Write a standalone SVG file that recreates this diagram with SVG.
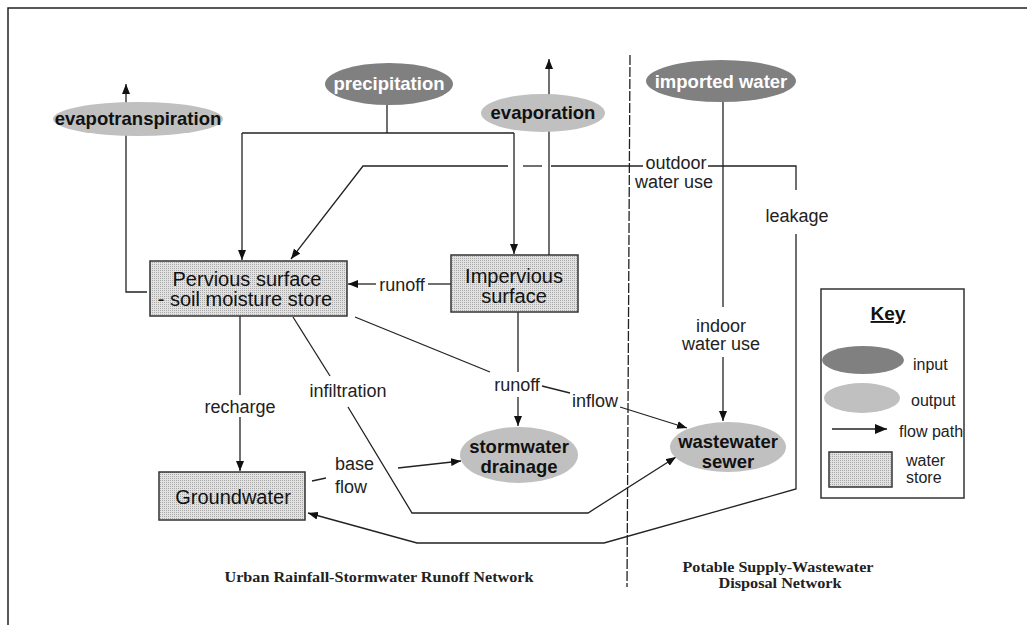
<svg xmlns="http://www.w3.org/2000/svg" width="1027" height="625" viewBox="0 0 1027 625">
<style>
.ln{fill:none;stroke:#222;stroke-width:1.3}
.box{stroke:#333;stroke-width:1.5;fill:url(#stip)}
.inp{fill:#808080}
.out{fill:#c0c0c0}
.bt{font-family:"Liberation Sans",Arial,sans-serif;font-size:20px;fill:#111;text-anchor:middle}
.et{font-family:"Liberation Sans",Arial,sans-serif;font-size:18.5px;font-weight:bold;text-anchor:middle}
.lb{font-family:"Liberation Sans",Arial,sans-serif;font-size:18px;fill:#222;text-anchor:middle}
.kt{font-family:"Liberation Sans",Arial,sans-serif;font-size:16px;fill:#222}
.sr{font-family:"Liberation Serif","Times New Roman",serif;font-size:15.5px;font-weight:bold;fill:#222;text-anchor:middle}
</style>
<defs>
<pattern id="stip" width="2" height="2" patternUnits="userSpaceOnUse">
<rect width="2" height="2" fill="#e2e2e2"/>
<rect width="1" height="1" fill="#a9a9a9"/>
</pattern>
<marker id="ah" markerWidth="10" markerHeight="8" refX="10" refY="4" orient="auto" markerUnits="userSpaceOnUse">
<path d="M0,0 L10,4 L0,8 Z" fill="#111"/>
</marker>
<marker id="ahk" markerWidth="12" markerHeight="10" refX="12" refY="5" orient="auto" markerUnits="userSpaceOnUse">
<path d="M0,0 L12,5 L0,10 Z" fill="#111"/>
</marker>
</defs>
<rect width="1027" height="625" fill="#fff"/>
<path d="M8,625 V8 H1027" fill="none" stroke="#222" stroke-width="1.5"/>
<line x1="630" y1="55" x2="627" y2="587" stroke="#222" stroke-width="1.3" stroke-dasharray="10 2"/>

<g id="connectors">
<path class="ln" d="M147,292 H126 V84" marker-end="url(#ah)"/>
<path class="ln" d="M387,105 V133"/>
<path class="ln" d="M242,133 H514"/>
<path class="ln" d="M242,133 V260" marker-end="url(#ah)"/>
<path class="ln" d="M514,133 V254" marker-end="url(#ah)"/>
<path class="ln" d="M549,255 V59" marker-end="url(#ah)"/>
<path class="ln" d="M508,166 H363 L291,259" marker-end="url(#ah)"/>
<path class="ln" d="M523,166 H542"/>
<path class="ln" d="M551,166 H643"/>
<path class="ln" d="M708,166 H796 V190"/>
<path class="ln" d="M796,234 V489 L604,543 H417 L308,513" marker-end="url(#ah)"/>
<path class="ln" d="M723,102 V307"/>
<path class="ln" d="M723,357 V421" marker-end="url(#ah)"/>
<path class="ln" d="M451,284 H428"/>
<path class="ln" d="M376,284 H348" marker-end="url(#ah)"/>
<path class="ln" d="M518,312 V372"/>
<path class="ln" d="M518,397 V426" marker-end="url(#ah)"/>
<path class="ln" d="M355,317 L490,372"/>
<path class="ln" d="M542,386 L570,393"/>
<path class="ln" d="M620,407 L687,428" marker-end="url(#ah)"/>
<path class="ln" d="M293,317 L330,376"/>
<path class="ln" d="M348,407 L412,513 H588 L676,457" marker-end="url(#ah)"/>
<path class="ln" d="M240,316 V395"/>
<path class="ln" d="M240,417 V471" marker-end="url(#ah)"/>
<path class="ln" d="M312,481 L326,478"/>
<path class="ln" d="M398,468 L461,461" marker-end="url(#ah)"/>
<text class="lb" x="676" y="169">outdoor</text>
<text class="lb" x="674" y="188">water use</text>
<text class="lb" x="797" y="222">leakage</text>
<text class="lb" x="721" y="332">indoor</text>
<text class="lb" x="721" y="350">water use</text>
<text class="lb" x="402" y="291">runoff</text>
<text class="lb" x="517" y="391">runoff</text>
<text class="lb" x="595" y="407">inflow</text>
<text class="lb" x="348" y="397">infiltration</text>
<text class="lb" x="240" y="413">recharge</text>
<text class="lb" x="335" y="470" style="text-anchor:start">base</text>
<text class="lb" x="335" y="493" style="text-anchor:start">flow</text>
</g>

<g id="precipitation">
<ellipse class="inp" cx="389" cy="84" rx="64" ry="21"/>
<text class="et" x="389" y="90" fill="#fff">precipitation</text>
</g>
<g id="evapotranspiration">
<ellipse class="out" cx="138" cy="119" rx="85" ry="17"/>
<text class="et" x="138" y="125" fill="#111">evapotranspiration</text>
</g>
<g id="evaporation">
<ellipse class="out" cx="543" cy="113" rx="62" ry="19"/>
<text class="et" x="543" y="119" fill="#111">evaporation</text>
</g>
<g id="imported-water">
<ellipse class="inp" cx="721" cy="81" rx="75" ry="21"/>
<text class="et" x="721" y="88" fill="#fff">imported water</text>
</g>
<g id="pervious">
<rect class="box" x="150" y="261" width="197" height="55"/>
<text class="bt" x="247" y="286">Pervious surface</text>
<text class="bt" x="245" y="306">- soil moisture store</text>
</g>
<g id="impervious">
<rect class="box" x="451" y="255" width="127" height="57"/>
<text class="bt" x="514" y="283">Impervious</text>
<text class="bt" x="514" y="303">surface</text>
</g>
<g id="groundwater">
<rect class="box" x="159" y="472" width="146" height="48"/>
<text class="bt" x="233" y="504">Groundwater</text>
</g>
<g id="stormwater-drainage">
<ellipse class="out" cx="519" cy="455" rx="59" ry="28"/>
<text class="et" x="519" y="453" fill="#111">stormwater</text>
<text class="et" x="519" y="473" fill="#111">drainage</text>
</g>
<g id="wastewater-sewer">
<ellipse class="out" cx="728" cy="447" rx="58" ry="25"/>
<text class="et" x="728" y="448" fill="#111">wastewater</text>
<text class="et" x="728" y="468" fill="#111">sewer</text>
</g>

<g id="key">
<rect x="821" y="289" width="143" height="209" fill="#fff" stroke="#333" stroke-width="1.5"/>
<text x="888" y="320" font-family="Liberation Sans,Arial,sans-serif" font-size="19" font-weight="bold" text-anchor="middle" fill="#111" text-decoration="underline">Key</text>
<ellipse class="inp" cx="863" cy="360" rx="41" ry="14"/>
<text class="kt" x="913" y="370">input</text>
<ellipse class="out" cx="862" cy="398" rx="38" ry="15"/>
<text class="kt" x="911" y="406">output</text>
<line class="ln" x1="832" y1="429" x2="887" y2="429" marker-end="url(#ahk)"/>
<text class="kt" x="899" y="437">flow path</text>
<rect class="box" x="829" y="452" width="63" height="35"/>
<text class="kt" x="906" y="466">water</text>
<text class="kt" x="906" y="483">store</text>
</g>

<g id="captions">
<text class="sr" x="379" y="582" textLength="309" lengthAdjust="spacingAndGlyphs">Urban Rainfall-Stormwater Runoff Network</text>
<text class="sr" x="778" y="572" textLength="191" lengthAdjust="spacingAndGlyphs">Potable Supply-Wastewater</text>
<text class="sr" x="780" y="588" textLength="123" lengthAdjust="spacingAndGlyphs">Disposal Network</text>
</g>
</svg>
